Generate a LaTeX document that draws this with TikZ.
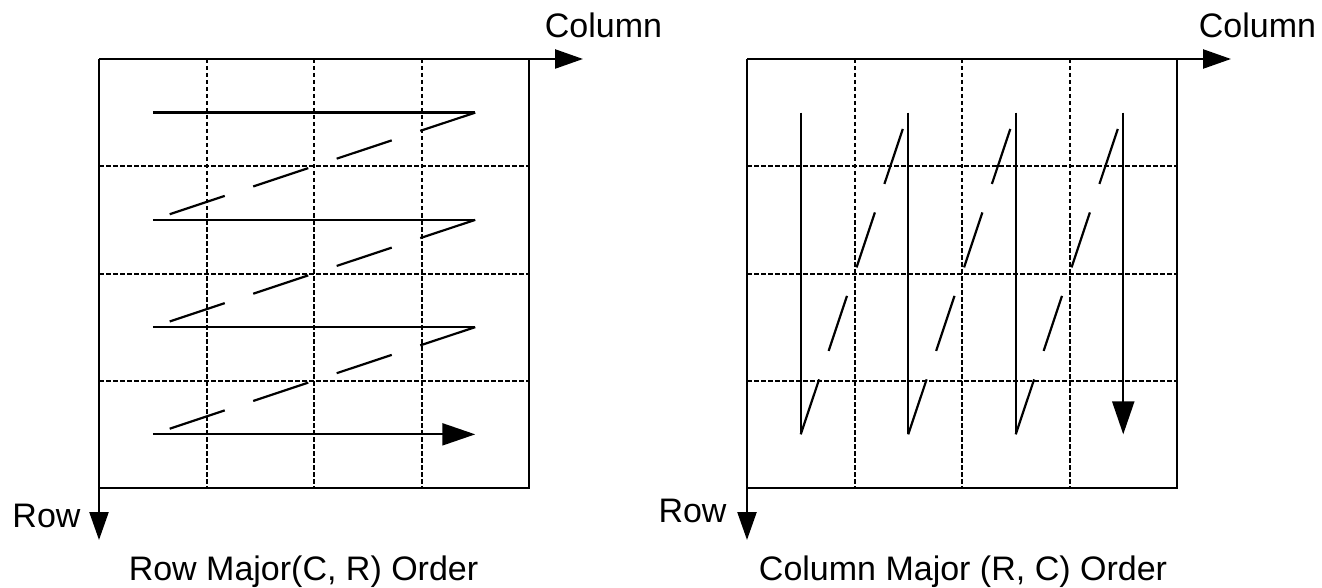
\documentclass[tikz,border=0pt]{standalone}
\usepackage{fontspec}
\setmainfont{Liberation Sans}
\usetikzlibrary{arrows.meta}
\begin{document}
\begin{tikzpicture}[x=1pt,y=-1pt,
 axis/.style={line width=2.4pt,-{Triangle[length=28pt,width=19pt]}},
 frame/.style={line width=2.4pt},
 gridline/.style={line width=2pt,dash pattern=on 4.5pt off 2.5pt},
 trace/.style={line width=2.2pt},
 jump/.style={line width=2.2pt,dash pattern=on 58pt off 30pt},
 endarrow/.style={line width=2.2pt,-{Triangle[length=33pt,width=22pt]}},
 lbl/.style={font=\fontsize{34}{40}\selectfont,inner sep=0pt,anchor=base}]
\useasboundingbox (0,0) rectangle (1322,588);
\foreach \p/\dx in {A/0,B/648}{
  \coordinate (\p-tl) at (99+\dx,59);
  \coordinate (\p-tr) at (529+\dx,59);
  \coordinate (\p-bl) at (99+\dx,488);
  \coordinate (\p-br) at (529+\dx,488);
  \coordinate (\p-cx) at (583+\dx,59);
  \coordinate (\p-ry) at (99+\dx,540);
  \foreach \k in {1,2,3}{
    \coordinate (\p-vt\k) at ({99+107.5*\k+\dx},59);
    \coordinate (\p-vb\k) at ({99+107.5*\k+\dx},488);
    \coordinate (\p-hl\k) at (99+\dx,{59+107.25*\k});
    \coordinate (\p-hr\k) at (529+\dx,{59+107.25*\k});
    \draw[gridline] (\p-vt\k) -- (\p-vb\k);
    \draw[gridline] (\p-hl\k) -- (\p-hr\k);
  }
  \foreach \r in {1,...,4}{\foreach \c in {1,...,4}{
    \coordinate (\p-\r-\c) at ({152.75+107.5*(\c-1)+\dx},{112.6+107.25*(\r-1)});
  }}
  \draw[frame] (\p-tr) -- (\p-br) -- (\p-bl);
  \draw[axis] (\p-tl) -- (\p-cx);
  \draw[axis] (\p-tl) -- (\p-ry);
}
% row major
\foreach \r in {1,2,3} \draw[trace] (A-\r-1) -- (A-\r-4);
\draw[endarrow] (A-4-1) -- (A-4-4);
\foreach \r/\n in {1/2,2/3,3/4} \draw[jump] (A-\r-4) -- (A-\n-1);
% column major
\foreach \c in {1,2,3} \draw[trace] (B-1-\c) -- (B-4-\c);
\draw[endarrow] (B-1-4) -- (B-4-4);
\foreach \c/\n in {1/2,2/3,3/4} \draw[jump] (B-4-\c) -- (B-1-\n);
% labels
\node[lbl] (A-col) at (603.5,38) {Column};
\node[lbl] (B-col) at (1257.5,38) {Column};
\node[lbl] (A-row) at (46.5,527) {Row};
\node[lbl] (B-row) at (692.5,522) {Row};
\node[lbl] (A-cap) at (303.5,580) {Row Major(C, R) Order};
\node[lbl] (B-cap) at (963,580) {Column Major (R, C) Order};
\end{tikzpicture}
\end{document}
